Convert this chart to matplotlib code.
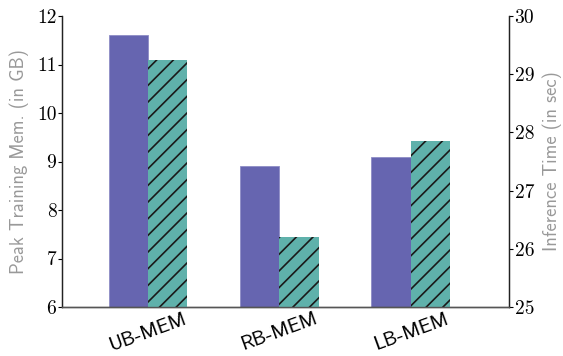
import matplotlib
matplotlib.use("Agg")
import matplotlib.pyplot as plt
import numpy as np

categories = ["UB-MEM", "RB-MEM", "LB-MEM"]
peak_mem_gb = [11.6, 8.9, 9.1]
inference_sec = [29.24, 26.2, 27.85]
mem_ticks = [6, 7, 8, 9, 10, 11, 12]
time_ticks = [25, 26, 27, 28, 29, 30]

purple = "#6665b0"
teal = "#5fb1ab"
label_gray = "#999999"

plt.rcParams["hatch.linewidth"] = 1.2

fig = plt.figure(figsize=(5.63, 3.56), dpi=100)
ax = fig.add_axes([62 / 563, 1 - 307 / 356, 447 / 563, 291 / 356])
ax2 = ax.twinx()

x = np.arange(len(categories))
w = 0.30

ax.bar(x - w / 2, peak_mem_gb, width=w, color=purple, edgecolor="#8d8cc6",
       linewidth=0.6, zorder=2)
# hatch colour follows the edge colour; hide the outline itself
ax2.bar(x + w / 2, inference_sec, width=w, color=teal, edgecolor="#1a1a1a",
        linewidth=0, hatch="//", zorder=2)

ax.set_xlim(-0.654, 2.746)
ax.set_ylim(6, 12)
ax2.set_ylim(25, 30)

ax.set_yticks(mem_ticks)
ax.set_yticklabels([str(t) for t in mem_ticks], family="cmr10", fontsize=14)
ax2.set_yticks(time_ticks)
ax2.set_yticklabels([str(t) for t in time_ticks], family="cmr10", fontsize=14)

ax.set_xticks(x)
ax.set_xticklabels(categories, family="cmss10", fontsize=14.5, rotation=20,
                   ha="center")
ax.tick_params(axis="x", length=0, pad=2)
ax.tick_params(axis="y", length=3, width=0.8, pad=1)
ax2.tick_params(axis="y", length=3, width=0.8, pad=1)

ax.set_ylabel("Peak Training Mem. (in GB)", family="cmss10", fontsize=13.3,
              color=label_gray, labelpad=6)
ax2.set_ylabel("Inference Time (in sec)", family="cmss10", fontsize=13.3,
               color=label_gray, labelpad=6)

for a in (ax, ax2):
    a.spines["top"].set_visible(False)
    a.spines["bottom"].set_color("#555555")
    a.spines["left"].set_color("#222222")
    a.spines["right"].set_color("#222222")
    a.spines["bottom"].set_linewidth(1.0)
    a.spines["left"].set_linewidth(0.9)
    a.spines["right"].set_linewidth(0.9)

fig.savefig("out.png", dpi=100)
